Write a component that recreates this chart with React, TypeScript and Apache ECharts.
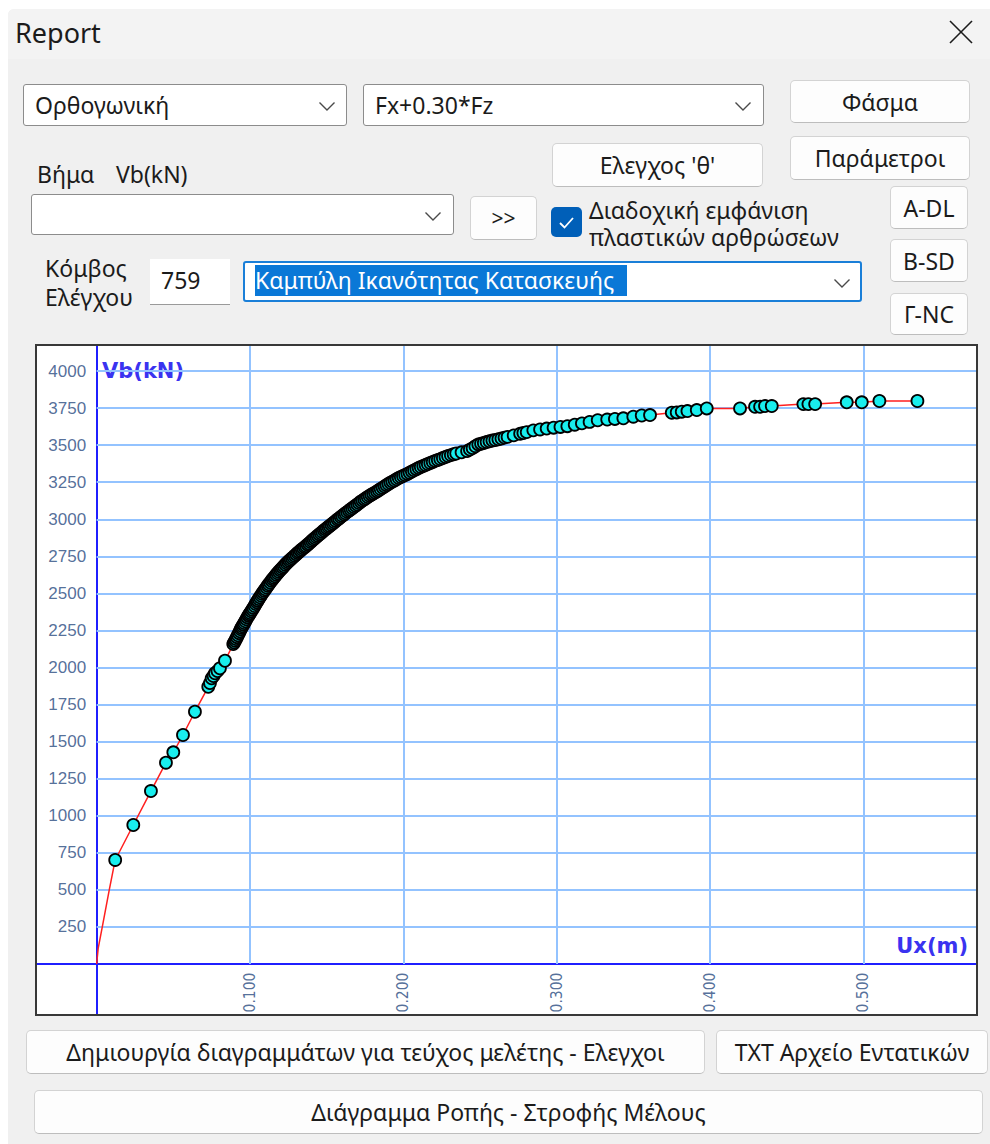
import React, { useEffect, useRef } from "react";
import * as echarts from "echarts";

// ---- data ----
// initial elastic branch (line only, no step markers)
const uxStart = [0, 0.001, 0.0039, 0.0082];
const vbStart = [0, 106, 263, 499];

// analysis steps (drawn with markers)
const uxSteps = [
  0.0121, 0.0239, 0.0354, 0.0452, 0.05, 0.0563, 0.0641, 0.0728, 0.0739, 0.075,
  0.0762, 0.0772, 0.0788, 0.0804, 0.0837, 0.0891, 0.0897, 0.0903, 0.0909, 0.0915,
  0.0921, 0.0928, 0.0934, 0.094, 0.0945, 0.0951, 0.0957, 0.0963, 0.097, 0.0976,
  0.0983, 0.099, 0.0996, 0.1002, 0.1008, 0.1015, 0.1022, 0.103, 0.1037, 0.1044,
  0.105, 0.1057, 0.1064, 0.1071, 0.1078, 0.1086, 0.1093, 0.11, 0.1108, 0.1116,
  0.1123, 0.1131, 0.114, 0.1148, 0.1155, 0.1163, 0.1171, 0.118, 0.1188, 0.1197,
  0.1205, 0.1213, 0.1221, 0.123, 0.1239, 0.1248, 0.1256, 0.1265, 0.1274, 0.1283,
  0.1292, 0.1302, 0.1311, 0.132, 0.1329, 0.1338, 0.1347, 0.1357, 0.1366, 0.1376,
  0.1385, 0.1395, 0.1404, 0.1414, 0.1423, 0.1433, 0.1442, 0.1452, 0.1462, 0.1472,
  0.1482, 0.1492, 0.1501, 0.1511, 0.152, 0.153, 0.154, 0.155, 0.156, 0.1571,
  0.1581, 0.1592, 0.1602, 0.1613, 0.1623, 0.1634, 0.1645, 0.1656, 0.1667, 0.1678,
  0.1689, 0.17, 0.1711, 0.1722, 0.1733, 0.1745, 0.1756, 0.1768, 0.178, 0.1791,
  0.1803, 0.1815, 0.1828, 0.184, 0.1852, 0.1865, 0.1878, 0.189, 0.1903, 0.1916,
  0.1929, 0.1943, 0.1956, 0.197, 0.1984, 0.1998, 0.2012, 0.2027, 0.2041, 0.2056,
  0.207, 0.2085, 0.21, 0.2114, 0.213, 0.2145, 0.216, 0.2176, 0.2192, 0.2208,
  0.2225, 0.2241, 0.2258, 0.2275, 0.2292, 0.231, 0.2328, 0.2345, 0.238, 0.2416,
  0.2434, 0.2452, 0.247, 0.2489, 0.2507, 0.2525, 0.2543, 0.2562, 0.2581, 0.26,
  0.262, 0.264, 0.266, 0.268, 0.272, 0.2762, 0.2783, 0.2805, 0.2848, 0.2892,
  0.2935, 0.298, 0.3025, 0.307, 0.3118, 0.3165, 0.3215, 0.3268, 0.333, 0.338,
  0.3435, 0.35, 0.3555, 0.3609, 0.3751, 0.3783, 0.3816, 0.3853, 0.3914, 0.3979,
  0.4196, 0.4294, 0.4327, 0.4359, 0.4403, 0.4609, 0.4642, 0.4686, 0.4892, 0.499,
  0.5105, 0.5353,
];
const vbSteps = [
  702, 938, 1167, 1358, 1428, 1545, 1702, 1870, 1895, 1927,
  1943, 1961, 1976, 1995, 2046, 2158, 2169, 2180, 2192, 2205,
  2218, 2232, 2245, 2258, 2268, 2278, 2289, 2300, 2312, 2325,
  2338, 2350, 2359, 2368, 2379, 2390, 2402, 2415, 2428, 2440,
  2451, 2462, 2474, 2485, 2497, 2508, 2518, 2528, 2540, 2552,
  2562, 2573, 2585, 2596, 2605, 2615, 2626, 2636, 2646, 2656,
  2665, 2674, 2683, 2693, 2703, 2712, 2720, 2728, 2737, 2745,
  2754, 2763, 2772, 2780, 2788, 2796, 2804, 2812, 2820, 2829,
  2837, 2846, 2855, 2864, 2872, 2880, 2889, 2898, 2906, 2915,
  2924, 2932, 2940, 2948, 2955, 2963, 2971, 2980, 2989, 2998,
  3006, 3015, 3023, 3032, 3041, 3050, 3058, 3066, 3074, 3083,
  3091, 3100, 3109, 3118, 3126, 3134, 3142, 3150, 3158, 3166,
  3173, 3180, 3188, 3196, 3204, 3212, 3221, 3230, 3238, 3246,
  3254, 3262, 3270, 3278, 3285, 3292, 3299, 3306, 3314, 3322,
  3330, 3338, 3346, 3353, 3360, 3366, 3373, 3380, 3387, 3394,
  3400, 3406, 3413, 3420, 3427, 3433, 3439, 3444, 3452, 3460,
  3470, 3480, 3493, 3505, 3510, 3515, 3521, 3526, 3531, 3535,
  3540, 3545, 3551, 3556, 3566, 3577, 3582, 3588, 3600, 3606,
  3612, 3618, 3623, 3628, 3638, 3647, 3657, 3668, 3673, 3677,
  3681, 3692, 3700, 3703, 3719, 3721, 3726, 3730, 3737, 3748,
  3748, 3759, 3759, 3764, 3764, 3777, 3777, 3777, 3789, 3789,
  3798, 3798,
];

const xTicks = [0.1, 0.2, 0.3, 0.4, 0.5];
const xTickLabels = ["0.100", "0.200", "0.300", "0.400", "0.500"];
const yTicks = [250, 500, 750, 1000, 1250, 1500, 1750, 2000, 2250, 2500, 2750, 3000, 3250, 3500, 3750, 4000];
const yTickLabels = ["250", "500", "750", "1000", "1250", "1500", "1750", "2000", "2250", "2500", "2750", "3000", "3250", "3500", "3750", "4000"];

const X_MIN = -0.0389;
const X_MAX = 0.5735;
const Y_MIN = -337;
const Y_MAX = 4169;

const UI_FONT = "'Noto Sans', 'Open Sans', sans-serif";
const TICK_COLOR = "#284a80";

function Chart() {
  const ref = useRef<HTMLDivElement>(null);
  useEffect(() => {
    const chart = echarts.init(ref.current!, null, { renderer: "svg" });
    const linePts = [
      ...uxStart.map((u, i) => [u, vbStart[i]]),
      ...uxSteps.map((u, i) => [u, vbSteps[i]]),
    ];
    const stepPts = uxSteps.map((u, i) => [u, vbSteps[i]]);
    const gridLines: any[] = [
      ...xTicks.map((v) => [{ coord: [v, 0] }, { coord: [v, Y_MAX] }]),
      ...yTicks.map((v) => [{ coord: [0, v] }, { coord: [X_MAX, v] }]),
    ];
    const yLabelPts = yTicks.map((v, i) => ({ value: [0, v], name: yTickLabels[i] }));
    const xLabelPts = xTicks.map((v, i) => ({ value: [v, 0], name: xTickLabels[i] }));
    chart.setOption({
      animation: false,
      grid: { left: 0, right: 0, top: 0, bottom: 0, containLabel: false, outerBoundsMode: "none" },
      xAxis: {
        type: "value",
        min: X_MIN,
        max: X_MAX,
        axisLine: { show: true, onZero: true, lineStyle: { color: "#1f1fff", width: 2 } },
        axisTick: { show: false },
        splitLine: { show: false },
        axisLabel: { show: false },
      },
      yAxis: {
        type: "value",
        min: Y_MIN,
        max: Y_MAX,
        axisLine: { show: true, onZero: true, lineStyle: { color: "#1f1fff", width: 2 } },
        axisTick: { show: false },
        splitLine: { show: false },
        axisLabel: { show: false },
      },
      graphic: [
        {
          type: "text",
          x: 65,
          y: 25,
          z: 0,
          style: {
            text: "Vb(kN)",
            fill: "#3a33f0",
            fontSize: 21,
            fontWeight: "bold",
            fontFamily: "'DejaVu Sans', sans-serif",
            align: "left",
            verticalAlign: "middle",
          },
        },
        {
          type: "text",
          x: 931,
          y: 600,
          z: 0,
          style: {
            text: "Ux(m)",
            fill: "#3a33f0",
            fontSize: 21,
            fontWeight: "bold",
            fontFamily: "'DejaVu Sans', sans-serif",
            align: "right",
            verticalAlign: "middle",
          },
        },
      ],
      series: [
        {
          type: "line",
          data: linePts,
          showSymbol: false,
          symbol: "none",
          lineStyle: { color: "#ff1f1f", width: 1.5 },
          z: 3,
          silent: true,
          markLine: {
            silent: true,
            symbol: ["none", "none"],
            z: 1,
            label: { show: false },
            emphasis: { disabled: true },
            lineStyle: { color: "#93c3ff", width: 2, type: "solid" },
            data: gridLines,
          },
        },
        {
          type: "scatter",
          data: stepPts,
          symbol: "circle",
          symbolSize: 12,
          itemStyle: { color: "#19eeee", borderColor: "#000000", borderWidth: 1.8, opacity: 1 },
          z: 4,
          silent: true,
        },
        {
          // y tick labels, placed through the axis scale
          type: "scatter",
          data: yLabelPts,
          symbolSize: 1,
          itemStyle: { color: "rgba(0,0,0,0)" },
          silent: true,
          z: 5,
          label: {
            show: true,
            position: "left",
            distance: 10,
            formatter: "{b}",
            fontSize: 17,
            fontFamily: "'Liberation Sans', Arial, sans-serif",
            color: TICK_COLOR,
          },
        },
        {
          // x tick labels, placed through the axis scale
          type: "scatter",
          data: xLabelPts,
          symbolSize: 1,
          itemStyle: { color: "rgba(0,0,0,0)" },
          silent: true,
          z: 5,
          label: {
            show: true,
            position: "bottom",
            distance: 8,
            rotate: 90,
            align: "right",
            verticalAlign: "middle",
            formatter: "{b}",
            fontSize: 15.5,
            fontFamily: "'DejaVu Sans Condensed', 'Liberation Sans Narrow', sans-serif",
            color: TICK_COLOR,
          },
        },
      ],
    });
    return () => chart.dispose();
  }, []);
  return <div ref={ref} style={{ width: 939, height: 668 }} />;
}

function Abs(props: { x: number; y: number; w: number; h: number; style?: any; children?: any }) {
  return (
    <div
      style={{
        position: "absolute",
        left: props.x,
        top: props.y,
        width: props.w,
        height: props.h,
        boxSizing: "border-box",
        ...(props.style || {}),
      }}
    >
      {props.children}
    </div>
  );
}

function Label(props: { x: number; cy: number; text: string; size?: number; color?: string }) {
  return (
    <div
      style={{
        position: "absolute",
        left: props.x,
        top: props.cy - 13,
        height: 26,
        lineHeight: "26px",
        fontSize: props.size || 23,
        fontFamily: UI_FONT,
        color: props.color || "#1b1b1b",
        whiteSpace: "nowrap",
      }}
    >
      {props.text}
    </div>
  );
}

// two stacked lines in one text block
function Label2(props: { x: number; cy1: number; gap: number; lines: string[]; size?: number }) {
  return (
    <div
      style={{
        position: "absolute",
        left: props.x,
        top: props.cy1 - props.gap / 2,
        lineHeight: props.gap + "px",
        fontSize: props.size || 23,
        fontFamily: UI_FONT,
        color: "#1b1b1b",
        whiteSpace: "pre",
      }}
    >
      {props.lines.join("\n")}
    </div>
  );
}

function Button(props: { x: number; y: number; x2: number; y2: number; text: string; size?: number }) {
  return (
    <Abs
      x={props.x}
      y={props.y}
      w={props.x2 - props.x}
      h={props.y2 - props.y}
      style={{
        background: "#fdfdfd",
        border: "1px solid #d3d3d3",
        borderBottomColor: "#bdbdbd",
        borderRadius: 5,
        display: "flex",
        alignItems: "center",
        justifyContent: "center",
        fontFamily: UI_FONT,
        fontSize: props.size || 23,
        color: "#1b1b1b",
        whiteSpace: "nowrap",
        overflow: "hidden",
      }}
    >
      {props.text}
    </Abs>
  );
}

function Chevron(props: { x: number; cy: number }) {
  return (
    <svg width={18} height={11} style={{ position: "absolute", left: props.x - 9, top: props.cy - 5 }}>
      <polyline points="1.5,1.5 9,9 16.5,1.5" fill="none" stroke="#4a4a4a" strokeWidth={1.4} />
    </svg>
  );
}

function Combo(props: { x: number; y: number; x2: number; y2: number; text?: string; chevronX: number; focused?: boolean }) {
  return (
    <>
      <Abs
        x={props.x}
        y={props.y}
        w={props.x2 - props.x}
        h={props.y2 - props.y}
        style={{
          background: "#ffffff",
          border: props.focused ? "2px solid #1a7fd8" : "1.5px solid #8c8c8c",
          borderRadius: 3,
        }}
      />
      {props.text ? <Label x={props.x + 12} cy={(props.y + props.y2) / 2} text={props.text} /> : null}
      <Chevron x={props.chevronX} cy={(props.y + props.y2) / 2 + 1} />
    </>
  );
}

export default function App() {
  return (
    <div
      style={{
        position: "fixed",
        left: 0,
        top: 0,
        width: 990,
        height: 1144,
        background: "#ffffff",
        overflow: "hidden",
      }}
    >
      {/* dialog body */}
      <Abs x={8} y={9} w={982} h={1135} style={{ background: "#f0f0f0", borderTopLeftRadius: 6 }} />
      {/* title bar */}
      <Abs x={8} y={9} w={982} h={50} style={{ background: "#f3f3f3", borderTopLeftRadius: 6 }} />
      <Label x={15} cy={33} text="Report" size={27} />
      <svg width={30} height={30} style={{ position: "absolute", left: 946, top: 17 }}>
        <line x1={4} y1={4} x2={26} y2={26} stroke="#1b1b1b" strokeWidth={1.6} />
        <line x1={26} y1={4} x2={4} y2={26} stroke="#1b1b1b" strokeWidth={1.6} />
      </svg>

      {/* first row */}
      <Combo x={23} y={84} x2={347} y2={126} text="Ορθογωνική" chevronX={327} />
      <Combo x={363} y={84} x2={764} y2={126} text="Fx+0.30*Fz" chevronX={743} />
      <Button x={790} y={80} x2={970} y2={123} text="Φάσμα" />
      <Button x={790} y={136} x2={970} y2={180} text="Παράμετροι" />
      <Button x={552} y={143} x2={763} y2={187} text="Ελεγχος 'θ'" />

      {/* second block */}
      <Label x={37} cy={174} text="Βήμα" />
      <Label x={116} cy={174} text="Vb(kN)" />
      <Combo x={31} y={194} x2={454} y2={235} chevronX={433} />
      <Button x={470} y={196} x2={537} y2={240} text=">>" size={21} />
      <Abs x={551} y={207} w={31} h={30} style={{ background: "#005fb8", borderRadius: 5 }}>
        <svg width={31} height={30} style={{ position: "absolute", left: 0, top: 0 }}>
          <polyline points="9,16 13.5,20.5 22,11" fill="none" stroke="#ffffff" strokeWidth={1.8} />
        </svg>
      </Abs>
      <Label2 x={589} cy1={210} gap={27} lines={["Διαδοχική εμφάνιση", "πλαστικών αρθρώσεων"]} />
      <Button x={890} y={186} x2={968} y2={229} text="A-DL" />
      <Button x={890} y={239} x2={968} y2={282} text="B-SD" />
      <Button x={890} y={293} x2={968} y2={335} text="Γ-NC" />

      {/* node row */}
      <Label2 x={45} cy1={268} gap={29} lines={["Κόμβος", "Ελέγχου"]} />
      <Abs x={150} y={259} w={80} h={46} style={{ background: "#ffffff", borderBottom: "1px solid #9a9a9a" }} />
      <Label x={161} cy={280} text="759" />
      <Combo x={243} y={261} x2={862} y2={302} chevronX={842} focused />
      <Abs
        x={255}
        y={265}
        w={372}
        h={31}
        style={{
          background: "#0a78d7",
          color: "#ffffff",
          fontFamily: UI_FONT,
          fontSize: 23,
          lineHeight: "31px",
          whiteSpace: "nowrap",
          overflow: "hidden",
          paddingLeft: 0,
        }}
      >
        Καμπύλη Ικανότητας Κατασκευής
      </Abs>

      {/* chart frame */}
      <Abs x={35} y={344} w={943} h={672} style={{ background: "#ffffff", border: "2px solid #383838" }}>
        <Chart />
      </Abs>

      {/* bottom buttons */}
      <Button x={26} y={1030} x2={705} y2={1074} text="Δημιουργία διαγραμμάτων για τεύχος μελέτης - Ελεγχοι" />
      <Button x={716} y={1030} x2={988} y2={1074} text="TXT Αρχείο Εντατικών" />
      <Button x={34} y={1090} x2={983} y2={1134} text="Διάγραμμα Ροπής - Στροφής Μέλους" />
    </div>
  );
}
